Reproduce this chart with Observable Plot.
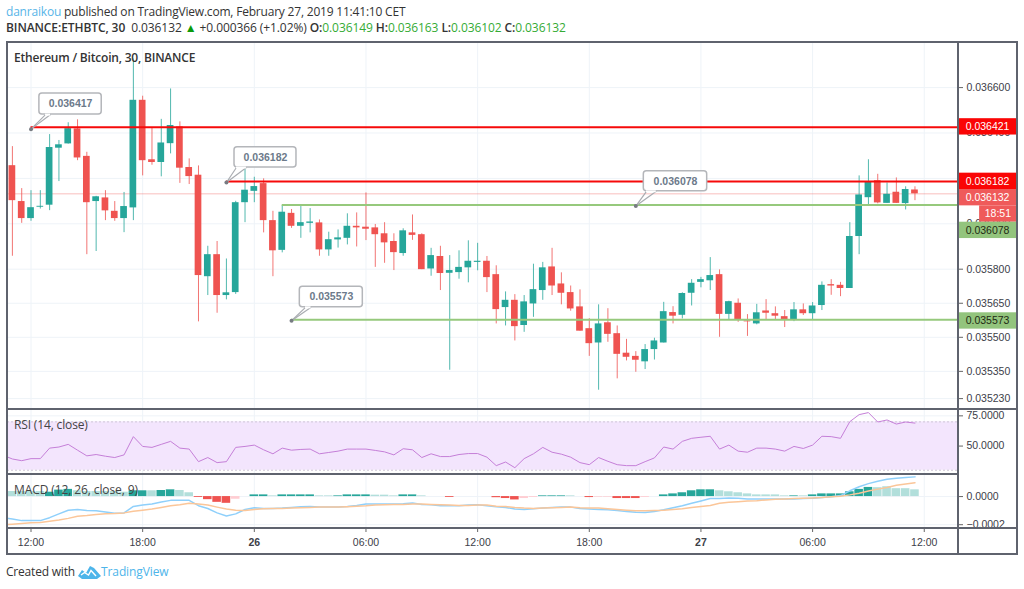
<!DOCTYPE html>
<html><head><meta charset="utf-8">
<script src="https://cdn.jsdelivr.net/npm/d3@7"></script>
<script src="https://cdn.jsdelivr.net/npm/@observablehq/plot@0.6"></script>
<style>
html,body{margin:0;padding:0;background:#fff;width:1024px;height:589px;overflow:hidden}
body{position:relative;font-family:"Open Sans",sans-serif;color:#333}
.t{position:absolute;white-space:nowrap;font-size:12px;line-height:16px}
.pane{position:absolute;left:0}
.pane svg{display:block;background:transparent}
.b{position:absolute;background:#5f636e}
</style></head><body>
<div id="panes"></div>
<div class="b" style="left:6px;top:41px;width:1012px;height:2px"></div>
<div class="b" style="left:6px;top:553px;width:1012px;height:2px"></div>
<div class="b" style="left:6px;top:41px;width:2px;height:514px"></div>
<div class="b" style="left:1016px;top:41px;width:2px;height:514px"></div>
<div class="b" style="left:957px;top:41px;width:2px;height:514px"></div>
<div class="b" style="left:6px;top:408px;width:1012px;height:2px"></div>
<div class="b" style="left:6px;top:473px;width:952px;height:2px"></div>
<div class="b" style="left:6px;top:527px;width:1012px;height:2px"></div>
<div class="t" style="left:6px;top:4px;letter-spacing:-.2px"><span style="color:#58b5e8">danraikou</span> published on TradingView.com, February 27, 2019 11:41:10 CET</div>
<div class="t" style="left:6px;top:20px;letter-spacing:-.09px"><b style="font-weight:600">BINANCE:ETHBTC, 30</b>&nbsp; 0.036132 <span style="color:#0a9a0a">▲</span> +0.000366 (+1.02%) <b style="font-weight:600">O:</b><span style="color:#35ab35">0.036149</span> <b style="font-weight:600">H:</b><span style="color:#35ab35">0.036163</span> <b style="font-weight:600">L:</b><span style="color:#35ab35">0.036102</span> <b style="font-weight:600">C:</b><span style="color:#35ab35">0.036132</span></div>
<div class="t" style="left:14px;top:50px;font-weight:600;color:#333;letter-spacing:-.2px">Ethereum / Bitcoin, 30, BINANCE</div>
<div class="t" style="left:14px;top:417px;color:#444;letter-spacing:-.15px">RSI (14, close)</div>
<div class="t" style="left:14px;top:482px;color:#444;letter-spacing:-.1px">MACD (12, 26, close, 9)</div>
<div class="t" style="left:6px;top:564px;color:#333;letter-spacing:-.2px">Created with</div>
<svg style="position:absolute;left:77px;top:564px" width="25" height="16" viewBox="0 0 25 16"><path d="M1 12 L5 6 L9 9 L13 2 L17 4 L24 12 L20 15 L5 15 Z" fill="#4db5ea"/><path d="M4 11 L7.5 8.5 L11.5 11 L14 6.5 L19 12" fill="none" stroke="#fff" stroke-width="1.4"/></svg>
<div class="t" style="left:101px;top:564px;color:#4db5ea;letter-spacing:-.1px">TradingView</div>
<script>
// candle prices in millionths of a BTC, one per 30-minute bar
const opens = [
36256,36098,36023,36073,36082,36333,36352,36418,36297,36098,
36114,36055,36023,36070,36544,36282,36270,36353,36427,36248,
36214,35767,35864,35684,35697,36093,36143,36177,36014,35883,
36046,35989,36002,36004,35885,35929,35936,35989,35985,35982,
35956,35922,35869,35960,35952,35801,35856,35782,35785,35806,
35830,35835,35776,35631,35663,35552,35647,35706,35810,35735,
35697,35634,35538,35475,35564,35516,35430,35416,35392,35446,
35475,35609,35597,35694,35742,35749,35776,35601,35650,35572,
35559,35616,35604,35591,35577,35621,35604,35640,35732,35729,
35715,35944,36115,36190,36090,36139,36089,36149];
const highs = [
36340,36155,36146,36146,36393,36367,36445,36458,36315,36121,
36146,36098,36138,36726,36562,36421,36460,36594,36449,36286,
36255,35901,35922,35845,36099,36239,36205,36198,36055,36080,
36063,36076,36067,36017,35963,35973,36044,36048,36136,35997,
36005,35956,35978,36039,35956,35892,35901,35860,35881,35925,
35914,35856,35815,35700,35688,35684,35822,35830,35892,35784,
35726,35709,35582,35643,35626,35550,35491,35437,35468,35496,
35654,35635,35696,35754,35764,35851,35797,35659,35669,35600,
35645,35666,35634,35618,35653,35647,35653,35744,35754,35742,
36005,36211,36282,36218,36180,36202,36163,36163];
const lows = [
35857,36002,36011,36065,36058,36186,36351,36278,35864,35878,
36014,36011,35961,36014,36211,36258,36207,36308,36178,36173,
35568,35684,35606,35665,35689,36005,36093,35960,35767,35872,
35980,35936,35960,35857,35857,35893,35907,35898,35926,35808,
35826,35794,35857,35927,35798,35769,35706,35355,35756,35740,
35793,35697,35559,35550,35484,35522,35588,35663,35684,35643,
35615,35527,35416,35267,35478,35317,35396,35346,35358,35400,
35475,35559,35581,35638,35718,35706,35500,35574,35566,35504,
35555,35577,35575,35543,35569,35596,35577,35618,35685,35679,
35715,35864,36077,36088,36090,36090,36061,36102];
const closes = [
36102,36023,36071,36077,36336,36348,36419,36290,36093,36119,
36057,36023,36076,36544,36278,36270,36356,36433,36245,36208,
35772,35864,35684,35696,36093,36148,36164,36014,35881,36051,
35989,36005,36008,35885,35930,35938,35989,35982,35976,35952,
35916,35873,35969,35949,35798,35860,35781,35794,35808,35835,
35835,35763,35622,35663,35547,35656,35710,35806,35726,35694,
35625,35527,35472,35559,35513,35425,35412,35399,35446,35484,
35613,35593,35693,35738,35754,35772,35601,35657,35577,35568,
35608,35606,35593,35578,35621,35604,35638,35729,35726,35715,
35944,36127,36186,36092,36130,36090,36151,36132];

// indicators start one bar before the first candle
const rsiValues = [42.4,
39.3,37.9,39.6,39.6,48.3,49.2,51.4,46.6,41.9,43.0,
41.6,40.5,42.7,57.8,49.7,48.9,51.4,53.9,48.3,47.5,
37.1,40.5,36.3,37.1,48.9,49.7,50.8,46.9,43.6,48.3,
46.6,47.2,47.5,43.6,44.7,45.8,47.5,47.5,47.5,46.4,
45.2,42.7,47.8,46.9,40.5,43.6,41.3,41.3,43.0,43.8,
43.8,40.8,33.8,36.8,32.1,39.6,43.6,48.9,44.9,43.3,
40.8,36.3,34.6,40.5,37.4,34.6,33.8,33.8,37.1,40.2,
49.2,47.5,53.9,56.4,57.3,58.1,47.5,50.8,45.8,44.9,
48.3,48.3,47.5,45.8,49.7,48.0,50.8,58.1,57.8,56.4,
70.2,76.0,77.7,69.9,71.6,68.2,69.9,69.0];
const macdLine = [-150,
-159,-171,-171,-171,-150,-123,-97,-92,-99,-101,
-109,-118,-116,-70,-60,-53,-39,-27,-27,-27,
-65,-85,-116,-138,-123,-92,-80,-85,-85,-82,
-77,-72,-70,-75,-75,-75,-70,-63,-53,-53,
-53,-53,-51,-46,-56,-58,-65,-65,-65,-60,
-58,-65,-72,-77,-89,-92,-87,-82,-77,-75,
-75,-85,-89,-92,-94,-99,-106,-111,-114,-106,
-94,-80,-65,-48,-31,-14,-14,-10,-12,-17,
-17,-17,-17,-17,-17,-14,-12,-7,-2,7,
41,70,92,109,123,130,135,140];
const signalLine = [-200,
-196,-191,-186,-184,-176,-167,-155,-140,-135,-128,
-123,-121,-116,-104,-97,-89,-77,-65,-58,-48,
-53,-60,-75,-89,-97,-99,-92,-87,-85,-85,
-82,-80,-77,-75,-75,-75,-72,-68,-65,-60,
-58,-56,-56,-53,-53,-56,-58,-60,-63,-63,
-60,-60,-68,-70,-77,-82,-85,-82,-80,-77,
-75,-80,-82,-82,-87,-92,-97,-101,-101,-99,
-97,-92,-87,-77,-70,-63,-48,-41,-36,-31,
-29,-24,-19,-17,-14,-12,-10,-7,-2,2,
12,24,39,53,65,80,89,99];
const histValues = [36,
36,36,36,36,31,46,51,41,36,36,
36,36,31,41,41,41,43,48,43,27,
-6,-22,-41,-48,-19,0,12,12,5,12,
12,12,12,5,5,5,12,12,12,10,
10,5,12,12,5,0,0,-6,0,0,
0,0,-8,-14,-24,-14,-6,5,5,5,
5,0,-7,-5,-5,-14,-14,-14,-6,0,
12,19,27,41,48,48,41,34,27,19,
12,12,12,5,5,5,12,19,19,19,
34,51,65,63,70,56,56,48];
const histFading = [-1,0,1,2,3,7,8,9,10,11,12,15,18,19,24,28,33,34,39,40,41,44,55,56,60,63,64,68,76,77,78,79,80,81,82,83,85,93,94,95,96,97];

const timeTicks = [2,14,26,38,50,62,74,86,98];
const timeLabels = ["12:00","18:00","26","06:00","12:00","18:00","27","06:00","12:00"];
const dayTicks = [26,74];
const priceTicks = [36600,36400,36200,36000,35800,35650,35500,35350,35230];
const rsiTicks = [75,50];
const macdTicks = [0,-200];

const levels = [
  {value:36421,start:2,color:"#f60a0a"},
  {value:36182,start:23,color:"#f60a0a"},
  {value:36078,start:29,color:"#96c97c"},
  {value:35573,start:30,color:"#96c97c"}];
const lastClose = 36132;

// [text, anchor bar, anchor price, box left, box right, box top, box bottom, tail left, tail right]
const callouts = [
  ["0.036417",2,36417,2.9,9.6,36574,36481,3.56,4.1],
  ["0.036182",23,36182,23.87,30.53,36337,36248,24.08,25.15],
  ["0.035573",30,35573,30.89,37.66,35723,35632,31.5,32.1],
  ["0.036078",67,36078,67.86,74.67,36231,36143,68.15,69.2]];

// [text, centre price, left bar, text bar, fill, text colour]
const tags = [
  ["0.036421",36427,101.68,102.45,"#fa0505","#fff"],
  ["0.035573",35572,101.68,102.45,"#93c47d","#1f2a14"],
  ["0.036182",36187,101.68,102.45,"#fa0505","#fff"],
  ["0.036132",36115,101.68,102.45,"#ef5a5a","#fff"],
  ["18:51",36043,103.95,104.5,"#ef5a5a","#fff"],
  ["0.036078",35971,101.68,102.45,"#93c47d","#1f2a14"]];

const upColor="#26a69a", downColor="#ef5350", gridColor="#eef3f8";
const font='"Liberation Sans",Arial,sans-serif';
const candles = opens.map((o,i)=>({bar:i,open:o,high:highs[i],low:lows[i],close:closes[i],up:closes[i]>=o}));
const indicators = rsiValues.map((v,i)=>({bar:i-1,rsi:v,macd:macdLine[i],signal:signalLine[i],hist:histValues[i]}));
const xDomain=[-0.527,101.68];
const base={width:1024,marginLeft:7,marginRight:66,marginTop:0,x:{domain:xDomain,axis:null}};
const style={fontFamily:font,fontSize:"10.5px",color:"#3c4048",background:"transparent"};
const rightAxis=(ticks,fmt)=>Plot.axisY({anchor:"right",ticks,tickFormat:fmt,tickSize:4,tickPadding:4,label:null,stroke:"#666",fontSize:10.5});
const gridV=Plot.gridX(timeTicks,{x:d=>d,stroke:gridColor,strokeOpacity:1});

const main=Plot.plot({...base,height:368,marginBottom:0,style,
  y:{domain:[35182,36803],axis:null},
  marks:[
    gridV,
    Plot.gridY(priceTicks,{y:d=>d,stroke:gridColor,strokeOpacity:1}),
    Plot.ruleY([lastClose],{x1:xDomain[0],x2:xDomain[1],stroke:"#ef5350",strokeOpacity:.25,strokeWidth:1.5}),
    Plot.ruleX(candles,{x:"bar",y1:"low",y2:"high",stroke:d=>d.up?upColor:downColor,strokeOpacity:.8}),
    Plot.rect(candles,{x1:d=>d.bar-.36,x2:d=>d.bar+.36,y1:"open",y2:"close",fill:d=>d.up?upColor:downColor}),
    Plot.ruleY(levels,{y:"value",x1:"start",x2:()=>xDomain[1],stroke:"color",strokeWidth:2,dy:-1}),
    rightAxis(priceTicks,d=>(d/1e6).toFixed(6)),
    Plot.link(callouts,{x1:d=>d[1],y1:d=>d[2],x2:d=>d[7],y2:d=>d[6],stroke:"#a9acb1",strokeWidth:1.2}),
    Plot.link(callouts,{x1:d=>d[1],y1:d=>d[2],x2:d=>d[8],y2:d=>d[6],stroke:"#a9acb1",strokeWidth:1.2}),
    Plot.rect(callouts,{x1:d=>d[3],x2:d=>d[4],y1:d=>d[5],y2:d=>d[6],fill:"#fff",stroke:"#b4b6ba",strokeWidth:1.5,rx:3}),
    Plot.ruleY(callouts,{y:d=>d[6],x1:d=>d[7],x2:d=>d[8],stroke:"#fff",strokeWidth:2}),
    Plot.dot(callouts,{x:d=>d[1],y:d=>d[2],r:2,fill:"#777b82"}),
    Plot.text(callouts,{x:d=>(d[3]+d[4])/2,y:d=>(d[5]+d[6])/2,text:d=>d[0],fill:"#6c7a8a",fontWeight:"bold",fontSize:10.5}),
    Plot.rect(tags,{x1:d=>d[2],x2:108,y1:d=>d[1]-36,y2:d=>d[1]+36,fill:d=>d[4]}),
    Plot.text(tags,{x:d=>d[3],y:d=>d[1],text:d=>d[0],fill:d=>d[5],textAnchor:"start",fontSize:10.5})
  ]});

const rsi=Plot.plot({...base,height:64,marginBottom:0,style,
  y:{domain:[27.3,80.25],axis:null},
  marks:[
    gridV,
    Plot.gridY(rsiTicks,{y:d=>d,stroke:gridColor,strokeOpacity:1}),
    Plot.rectY([0],{x1:xDomain[0],x2:xDomain[1],y1:30,y2:70,fill:"#f3e5fd"}),
    Plot.ruleY([70,30],{stroke:"#cfc6d6",strokeDasharray:"2,2"}),
    Plot.lineY(indicators,{x:"bar",y:"rsi",stroke:"#c57fd8",strokeWidth:1,clip:true}),
    rightAxis(rsiTicks,d=>d.toFixed(4))
  ]});

const fade=new Set(histFading);
const macd=Plot.plot({...base,height:81,marginBottom:26,style,
  y:{domain:[-227,164],axis:null},
  marks:[
    gridV,
    Plot.gridY(macdTicks,{y:d=>d,stroke:gridColor,strokeOpacity:1}),
    Plot.rect(indicators.filter(d=>d.hist!==0),{x1:d=>d.bar-.46,x2:d=>d.bar+.46,y1:0,y2:"hist",clip:true,
      fill:d=>d.hist>=0?(fade.has(d.bar)?"#b2dfdb":upColor):(fade.has(d.bar)?"#ffcdd2":downColor)}),
    Plot.lineY(indicators,{x:"bar",y:"macd",stroke:"#8fd0fb",strokeWidth:1.5,clip:true}),
    Plot.lineY(indicators,{x:"bar",y:"signal",stroke:"#fbc699",strokeWidth:1.5,clip:true}),
    rightAxis(macdTicks,d=>d===0?"0.0000":"−"+Math.abs(d/1e6).toFixed(4)),
    Plot.axisX({ticks:timeTicks.filter(t=>!dayTicks.includes(t)),tickFormat:t=>timeLabels[timeTicks.indexOf(t)],tickSize:4,tickPadding:6,label:null,fontSize:10.5,stroke:"#666"}),
    Plot.axisX({ticks:dayTicks,tickFormat:t=>timeLabels[timeTicks.indexOf(t)],tickSize:4,tickPadding:6,label:null,fontSize:10.5,fontWeight:"bold",stroke:"#666"})
  ]});

const host=document.getElementById("panes");
[[main,41],[rsi,409],[macd,473]].forEach(([svg,top])=>{
  const d=document.createElement("div");d.className="pane";d.style.top=top+"px";d.appendChild(svg);host.appendChild(d);
});
</script>
</body></html>
